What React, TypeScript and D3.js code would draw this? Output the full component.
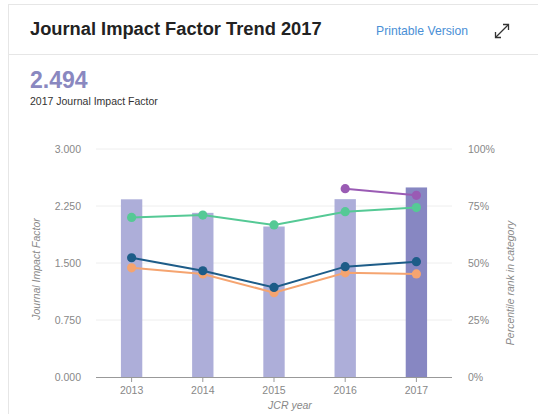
import * as d3 from 'd3'

// JCR year categories
const years = ['2013', '2014', '2015', '2016', '2017']

// Journal Impact Factor per year (bars, left axis)
const jifValues = [2.338, 2.16, 1.98, 2.34, 2.494]

// Percentile rank series (right axis, %)
const greenRank = [70.0, 71.0, 66.7, 72.5, 74.3]
const blueRank = [52.3, 46.6, 39.3, 48.4, 50.6]
const orangeRank = [47.9, 45.2, 37.0, 45.7, 45.2]
const purpleRank: (number | null)[] = [null, null, null, 82.6, 79.7]

const leftTicks = [0, 0.75, 1.5, 2.25, 3]
const rightTicks = [0, 25, 50, 75, 100]

const FONT = '"Liberation Sans", Arial, Helvetica, sans-serif'

const series = [
  { values: orangeRank, color: '#f5a470' },
  { values: blueRank, color: '#1d5c88' },
  { values: greenRank, color: '#55c995' },
  { values: purpleRank, color: '#9a5bb4' },
]

export default function App() {
  const width = 538
  const height = 414
  const plot = { left: 96, right: 452, top: 149, bottom: 377 }

  const x = d3.scaleBand<string>().domain(years).range([plot.left, plot.right]).paddingInner(0).paddingOuter(0)
  const yL = d3.scaleLinear().domain([0, 3]).range([plot.bottom, plot.top])
  const yR = d3.scaleLinear().domain([0, 100]).range([plot.bottom, plot.top])
  const barW = x.bandwidth() * 0.3
  const cx = (d: string) => (x(d) ?? 0) + x.bandwidth() / 2

  const line = d3
    .line<number | null>()
    .defined((d) => d != null)
    .x((_, i) => cx(years[i]))
    .y((d) => yR(d as number))

  return (
    <svg width={width} height={height} style={{ position: 'fixed', left: 0, top: 0, background: '#fff' }} fontFamily={FONT}>
      {/* card */}
      <rect x={8.5} y={4.5} width={540} height={420} fill="#fff" stroke="#e6e6e6" />
      <line x1={9} x2={538} y1={54.5} y2={54.5} stroke="#e6e6e6" />
      <text x={30} y={35} fontSize={18.3} fontWeight="bold" fill="#222">
        Journal Impact Factor Trend 2017
      </text>
      <text x={376} y={35} fontSize={12.2} fill="#4a8fd6">
        Printable Version
      </text>
      {/* expand icon */}
      <g stroke="#333" strokeWidth={1.3} fill="none">
        <line x1={496} y1={37} x2={508} y2={25} />
        <polyline points="503,24.5 508.5,24.5 508.5,30" />
        <polyline points="495.5,32 495.5,37.5 501,37.5" />
      </g>
      <text x={30} y={88} fontSize={23} fontWeight="bold" fill="#8a88c0">
        2.494
      </text>
      <text x={30} y={105} fontSize={10.5} fill="#333">
        2017 Journal Impact Factor
      </text>

      {/* gridlines */}
      {leftTicks.slice(1).map((t) => (
        <line key={t} x1={plot.left} x2={plot.right} y1={yL(t)} y2={yL(t)} stroke="#eeeeee" />
      ))}

      {/* bars */}
      {years.map((yr, i) => (
        <rect
          key={yr}
          x={cx(yr) - barW / 2}
          y={yL(jifValues[i])}
          width={barW}
          height={plot.bottom - yL(jifValues[i])}
          fill={i === years.length - 1 ? '#8787c2' : '#adaed9'}
        />
      ))}

      {/* lines */}
      {series.map((s, si) => (
        <g key={si}>
          <path d={line(s.values) ?? ''} fill="none" stroke={s.color} strokeWidth={2} />
          {s.values.map((v, i) =>
            v == null ? null : <circle key={i} cx={cx(years[i])} cy={yR(v)} r={4.6} fill={s.color} />
          )}
        </g>
      ))}

      {/* x axis */}
      <line x1={plot.left} x2={plot.right} y1={plot.bottom + 0.5} y2={plot.bottom + 0.5} stroke="#999" />
      {years.map((yr) => (
        <g key={yr}>
          <line x1={cx(yr)} x2={cx(yr)} y1={plot.bottom} y2={plot.bottom + 5} stroke="#999" />
          <text x={cx(yr)} y={plot.bottom + 17} fontSize={10.5} fill="#888" textAnchor="middle">
            {yr}
          </text>
        </g>
      ))}
      <text x={290} y={409} fontSize={10.5} fill="#888" fontStyle="italic" textAnchor="middle">
        JCR year
      </text>

      {/* left axis */}
      {leftTicks.map((t) => (
        <text key={t} x={81} y={yL(t) + 4} fontSize={10.5} fill="#888" textAnchor="end">
          {d3.format('.3f')(t)}
        </text>
      ))}
      <text
        transform={`translate(40,${(plot.top + plot.bottom) / 2 + 6}) rotate(-90)`}
        fontSize={10.5}
        fill="#888"
        fontStyle="italic"
        textAnchor="middle"
      >
        Journal Impact Factor
      </text>

      {/* right axis */}
      {rightTicks.map((t) => (
        <text key={t} x={468} y={yR(t) + 4} fontSize={10.5} fill="#888">
          {t + '%'}
        </text>
      ))}
      <text
        transform={`translate(514,${(plot.top + plot.bottom) / 2 + 20}) rotate(-90)`}
        fontSize={10.5}
        fill="#888"
        fontStyle="italic"
        textAnchor="middle"
      >
        Percentile rank in category
      </text>
    </svg>
  )
}
